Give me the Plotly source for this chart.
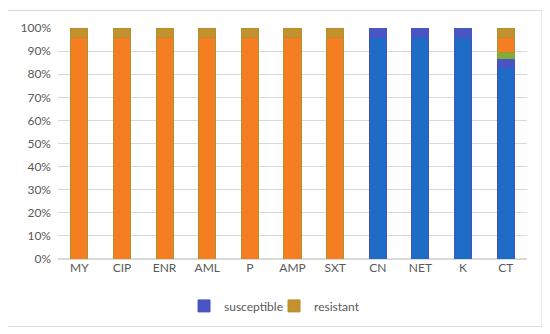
import plotly.graph_objects as go

categories = ["MY", "CIP", "ENR", "AML", "P", "AMP", "SXT", "CN", "NET", "K", "CT"]
# stacked segments (percent of isolates), bottom to top; None = segment absent
blue_main = [None, None, None, None, None, None, None, 96, 96, 96, 83]
susceptible = [None, None, None, None, None, None, None, 4, 4, 4, 4]
green_part = [None, None, None, None, None, None, None, None, None, None, 2.5]
orange_part = [96, 96, 96, 96, 96, 96, 96, None, None, None, 6.5]
resistant = [4, 4, 4, 4, 4, 4, 4, None, None, None, 4]
tick_vals = [0, 10, 20, 30, 40, 50, 60, 70, 80, 90, 100]
tick_text = ["0%", "10%", "20%", "30%", "40%", "50%", "60%", "70%", "80%", "90%", "100%"]

segments = [
    (blue_main, "#1F6CC6", "#4552C0", None),
    (susceptible, "#4A55C4", "#4A55C4", "susceptible"),
    (green_part, "#7FAE38", "#7FAE38", None),
    (orange_part, "#F57E22", "#A89530", None),
    (resistant, "#C3922E", "#B38F2E", "resistant"),
]

fig = go.Figure()
for vals, col, lcol, name in segments:
    fig.add_trace(go.Bar(
        x=categories, y=vals, name=name if name else "",
        marker=dict(color=col, line=dict(color=lcol, width=1)),
        showlegend=name is not None,
    ))

fig.update_layout(
    barmode="stack",
    bargap=0.6,
    width=542, height=326,
    margin=dict(l=50, r=23, t=15, b=75),
    paper_bgcolor="white", plot_bgcolor="white",
    font=dict(family="Lato, Carlito, sans-serif", size=12, color="#595959"),
    legend=dict(orientation="h", x=0.2687, xanchor="left", y=-0.203, yanchor="middle",
                font=dict(size=12, color="#595959"), itemwidth=30, traceorder="normal",
                entrywidth=45, entrywidthmode="pixels"),
    xaxis=dict(showgrid=False, showline=False, ticks="", tickfont=dict(size=12, color="#595959")),
    yaxis=dict(range=[0, 100], tickvals=tick_vals, ticktext=tick_text, showgrid=True,
               gridcolor="#D9D9D9", gridwidth=1, zeroline=True, zerolinecolor="#D9D9D9",
               ticks="", tickfont=dict(size=12, color="#595959"), ticklabelstandoff=6),
    shapes=[dict(type="rect", xref="paper", yref="paper", x0=-0.1087, x1=1.032, y0=-0.292, y1=1.076,
                 line=dict(color="#D9D9D9", width=1), fillcolor="rgba(0,0,0,0)", layer="below")],
)
fig.write_html("out.html")
